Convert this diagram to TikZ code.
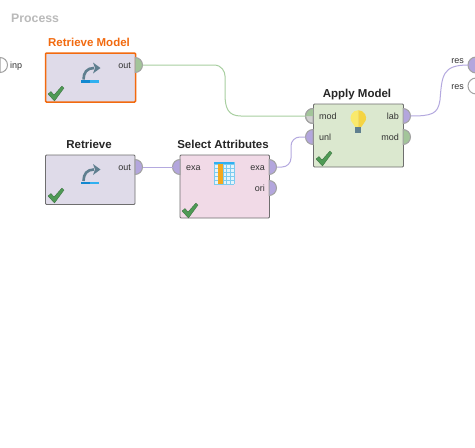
\documentclass[tikz,border=0pt]{standalone}
\usepackage{fontspec}
\setmainfont{Liberation Sans}
\definecolor{opblue}{HTML}{DFDBE9}
\definecolor{oppink}{HTML}{F1DAE7}
\definecolor{opgreen}{HTML}{DBE8CF}
\definecolor{edgegray}{HTML}{6E6E6E}
\definecolor{portpurple}{HTML}{B3A6DD}
\definecolor{portgreen}{HTML}{A3C59A}
\definecolor{portgray}{HTML}{A2A2A2}
\definecolor{portlight}{HTML}{D0D0D0}
\definecolor{wirepurple}{HTML}{B4A9DF}
\definecolor{wiregreen}{HTML}{A8CFA0}
\definecolor{checkgreen}{HTML}{4E9A55}
\definecolor{arrowgray}{HTML}{5F7F8F}
\definecolor{barblue}{HTML}{30B0F0}
\definecolor{bardark}{HTML}{1288D0}
\definecolor{gridblue}{HTML}{7CCBEF}
\definecolor{cellblue}{HTML}{E4F4FB}
\definecolor{colorange}{HTML}{F5A81C}
\definecolor{bulbleft}{HTML}{F9E96C}
\definecolor{bulbright}{HTML}{F5D444}
\definecolor{orangeop}{HTML}{F26A0F}
\usetikzlibrary{calc}
\tikzset{
  opbox/.style={draw=edgegray,line width=.9pt,rounded corners=1pt,anchor=north west,inner sep=0pt,outer sep=0pt},
  optitle/.style={font=\bfseries\fontsize{11.5}{13}\selectfont,text=black!85,inner sep=0pt,anchor=base},
  portlabel/.style={font=\fontsize{9}{10}\selectfont,text=black!80,inner sep=0pt,anchor=base},
  wire/.style={line width=1pt,rounded corners=9pt},
  rport/.style={draw=portgray,line width=1pt},
}
\newcommand{\rightport}[4][7.5]{\filldraw[rport,fill=#3] ($(#2)+(0,-#1)$) arc[start angle=-90,end angle=90,radius=#1] -- cycle;\coordinate (#4) at ($(#2)+(#1,0)$);}
\newcommand{\leftport}[4][7.5]{\filldraw[rport,fill=#3] ($(#2)+(0,-#1)$) arc[start angle=270,end angle=90,radius=#1] -- cycle;\coordinate (#4) at ($(#2)+(-#1,0)$);}
\newcommand{\okmark}[1]{\fill[checkgreen,draw=checkgreen!70!black,line width=.3pt,shift={(#1)}] (0,6) -- (3,3.5) -- (6,7) -- (14,-2) -- (16,0) -- (6.5,13) -- cycle;}
\newcommand{\retrieveicon}[1]{\begin{scope}[shift={(#1)}]
  \draw[arrowgray,line width=2.6pt] (-6.5,8) .. controls (-6.5,1) and (-3,-3.5) .. (4,-3.5);
  \fill[arrowgray] (3,-9) -- (10.5,-3.5) -- (3,2) -- (5,-3.5) -- cycle;
  \fill[barblue] (-9,8.5) rectangle (9,11.2);
  \fill[bardark] (-9,8.5) rectangle (0,11.2);
\end{scope}}
\begin{document}
\begin{tikzpicture}[x=1pt,y=-1pt]
\useasboundingbox (0,0) rectangle (475,448);
\fill[white] (0,0) rectangle (475,448);
\node[font=\bfseries\fontsize{12.3}{14}\selectfont,text=black!27,inner sep=0pt,anchor=base west] (title) at (11,22) {Process};
% boxes
\node[opbox,fill=opblue,draw=orangeop,line width=1.5pt,minimum width=90pt,minimum height=49pt] (rm) at (45.5,53) {};
\node[opbox,fill=opblue,minimum width=89.5pt,minimum height=49.5pt] (rt) at (45.5,155) {};
\node[opbox,fill=oppink,minimum width=89.5pt,minimum height=63pt] (sa) at (180,155) {};
\node[opbox,fill=opgreen,minimum width=90pt,minimum height=63pt] (am) at (313.5,104) {};
% titles
\node[optitle,text=orangeop] (trm) at (89,46) {Retrieve Model};
\node[optitle] (trt) at (89,148) {Retrieve};
\node[optitle] (tsa) at (223,148) {Select Attributes};
\node[optitle] (tam) at (357,97) {Apply Model};
% ports
\rightport{0,65}{white}{pinp}
\rightport{135,65}{portgreen}{prm}
\rightport{135,167}{portpurple}{prt}
\leftport{180,167}{portpurple}{psai}
\rightport{269,167}{portpurple}{psao}
\rightport{269,188}{portpurple}{psaor}
\leftport{313,116}{portlight}{pamm}
\fill[portgreen] (313,108.5) arc[start angle=270,end angle=180,radius=7.5] -- (313,116) -- cycle;
\draw[rport] (313,108.5) arc[start angle=270,end angle=90,radius=7.5];
\leftport{313,137}{portpurple}{pamu}
\rightport{403,116}{portpurple}{paml}
\rightport{403,137}{portgreen}{pamo}
\filldraw[rport,fill=portpurple] (476,65) circle[radius=8];
\filldraw[rport,fill=white] (476,86) circle[radius=8];
\coordinate (pres) at (468,65);
% wires
\draw[wire,wiregreen] (prm) -- (205,65) .. controls (222,65) and (225,72) .. (225,85) .. controls (225,108) and (228,116) .. (250,116) -- (pamm);
\draw[wire,wirepurple] (prt) -- (psai);
\draw[wire,wirepurple] (psao) -- (291,167) -- (291,137) -- (pamu);
\draw[wirepurple,line width=1pt] (paml) .. controls (432,116) and (438,114) .. (440,100) .. controls (442,76) and (442,65) .. (pres);
% port labels
\node[portlabel,anchor=base west] (linp) at (10,68) {inp};
\node[portlabel,anchor=base east] (l1) at (131,68) {out};
\node[portlabel,anchor=base east] (l2) at (131,170) {out};
\node[portlabel,anchor=base west] (l3) at (186,170) {exa};
\node[portlabel,anchor=base east] (l4) at (265,170) {exa};
\node[portlabel,anchor=base east] (l5) at (265,191) {ori};
\node[portlabel,anchor=base west] (l6) at (319,119) {mod};
\node[portlabel,anchor=base west] (l7) at (319,140) {unl};
\node[portlabel,anchor=base east] (l8) at (399,119) {lab};
\node[portlabel,anchor=base east] (l9) at (399,140) {mod};
\node[portlabel,anchor=base east] (l10) at (464,63) {res};
\node[portlabel,anchor=base east] (l11) at (464,89) {res};
% icons
\retrieveicon{90,71.5}
\retrieveicon{90,173}
\okmark{48,88}
\okmark{48,190}
\okmark{182,205}
\okmark{316,153}
% table icon
\begin{scope}[shift={(214,162)}]
  \fill[cellblue] (0,0) rectangle (20,22);
  \foreach \u in {0,4,9,12.5,16,20} \draw[gridblue,line width=.5pt] (\u,0) -- (\u,22);
  \foreach \v in {2,6,10,14,18,22} \draw[gridblue,line width=.5pt] (0,\v) -- (20,\v);
  \fill[colorange] (4,2) rectangle (9,22);
  \fill[barblue] (0,0) rectangle (20,2);
\end{scope}
% bulb
\begin{scope}[shift={(358.3,118)}]
  \fill[bulbleft] (0,-7.8) arc[start angle=270,end angle=160,radius=7.8] -- (-3,9) -- (0,9) -- cycle;
  \fill[bulbright] (0,-7.8) arc[start angle=270,end angle=380,radius=7.8] -- (3,9) -- (0,9) -- cycle;
  \fill[arrowgray] (-3,9) rectangle (3,15) ;
\end{scope}
\end{tikzpicture}
\end{document}
